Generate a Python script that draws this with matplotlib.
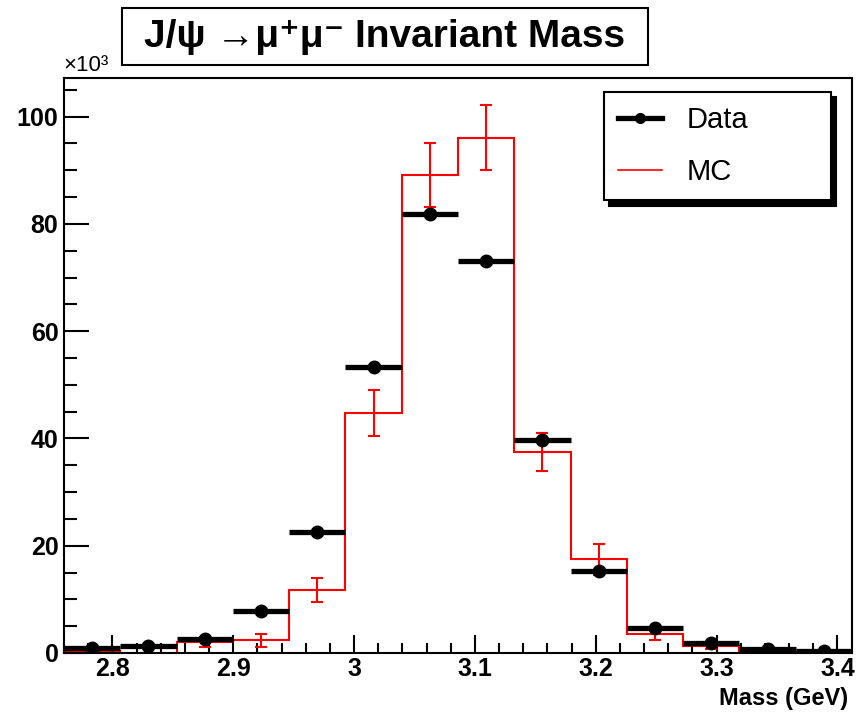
import numpy as np
import matplotlib
matplotlib.use('Agg')
import matplotlib.pyplot as plt
from matplotlib.lines import Line2D
from matplotlib.patches import Rectangle

plt.rcParams['font.family'] = ['Liberation Sans', 'DejaVu Sans']

# histogram binning (GeV)
x_lo, x_hi, n_bins = 2.76, 3.412, 14

# counts in units of 10^3
data = [0.9, 1.3, 2.7, 7.9, 22.5, 53.4, 81.8, 73.0, 39.8, 15.2, 4.6, 1.8, 0.7, 0.3]
mc = [0.4, 0.0, 2.1, 2.4, 11.7, 44.7, 89.1, 96.1, 37.5, 17.5, 3.6, 1.3, 0.2, 0.1]
mc_err = [0.3, 0.0, 0.9, 1.2, 2.2, 4.3, 5.9, 6.1, 3.6, 2.9, 1.2, 0.6, 0.2, 0.1]

edges = np.linspace(x_lo, x_hi, n_bins + 1)
centers = 0.5 * (edges[:-1] + edges[1:])
half = 0.5 * (edges[1] - edges[0])
data = np.array(data)
data_err = np.sqrt(data * 1000) / 1000

fig = plt.figure(figsize=(8.61, 7.13), dpi=100)
ax = fig.add_axes([64/861, 60/713, 788/861, 575/713])

# MC histogram with error bars
ax.stairs(mc, edges, color='red', lw=1.5, baseline=0)
ax.errorbar(centers, mc, yerr=mc_err, fmt='none', ecolor='red', elinewidth=1.5,
            capsize=4, capthick=1.5)

# data points
ax.errorbar(centers, data, xerr=half, yerr=data_err, fmt='o', color='black',
            ms=9, elinewidth=3.8, capsize=0, zorder=5)

ax.set_xlim(x_lo, x_hi)
ax.set_ylim(0, 107.2)
ax.set_xticks([2.8, 2.9, 3.0, 3.1, 3.2, 3.3, 3.4])
ax.set_xticklabels(['2.8', '2.9', '3', '3.1', '3.2', '3.3', '3.4'])
ax.set_xticks(np.arange(2.76, 3.41, 0.02), minor=True)
ax.set_yticks([0, 20, 40, 60, 80, 100])
ax.set_yticks(np.arange(0, 106, 5), minor=True)

for lab in ax.get_xticklabels() + ax.get_yticklabels():
    lab.set_fontweight('bold')
    lab.set_fontsize(18)

ax.tick_params(axis='x', which='major', direction='in', length=13, width=1.5, pad=3)
ax.tick_params(axis='x', which='minor', direction='in', length=7, width=1.5)
ax.tick_params(axis='y', which='major', direction='in', length=18, width=1.5, pad=4)
ax.tick_params(axis='y', which='minor', direction='in', length=9, width=1.5)
for s in ax.spines.values():
    s.set_linewidth(1.5)

fig.text(848/861, 1 - 698/713, 'Mass (GeV)', fontsize=17, fontweight='bold',
         ha='right', va='center')
fig.text(63/861, 1 - 76/713, '×10³', fontsize=16, ha='left', va='bottom')

# legend
handles = [Line2D([], [], color='black', lw=3.8, marker='o', ms=7),
           Line2D([], [], color='red', lw=1.2)]
leg = ax.legend(handles, ['Data', 'MC'], loc='upper left',
                bbox_to_anchor=(0.685, 0.791, 0.288, 0.185), mode='expand',
                fontsize=21, frameon=True, fancybox=False, handlelength=1.5,
                handletextpad=0.85, borderpad=0.5, labelspacing=0.8, borderaxespad=0,
                shadow={'color': 'black', 'alpha': 1, 'ox': 4, 'oy': -4})
leg.get_frame().set_edgecolor('black')
leg.get_frame().set_linewidth(1.5)

# title box
fig.patches.append(Rectangle((122/861, 1 - 65/713), 526/861, 57/713, transform=fig.transFigure,
                             fill=False, edgecolor='black', lw=1.5))
fig.text(385/861, 1 - 37/713, 'J/ψ →μ⁺μ⁻ Invariant Mass', fontsize=28, fontweight='bold',
         ha='center', va='center')

fig.savefig('out.png', dpi=100)
